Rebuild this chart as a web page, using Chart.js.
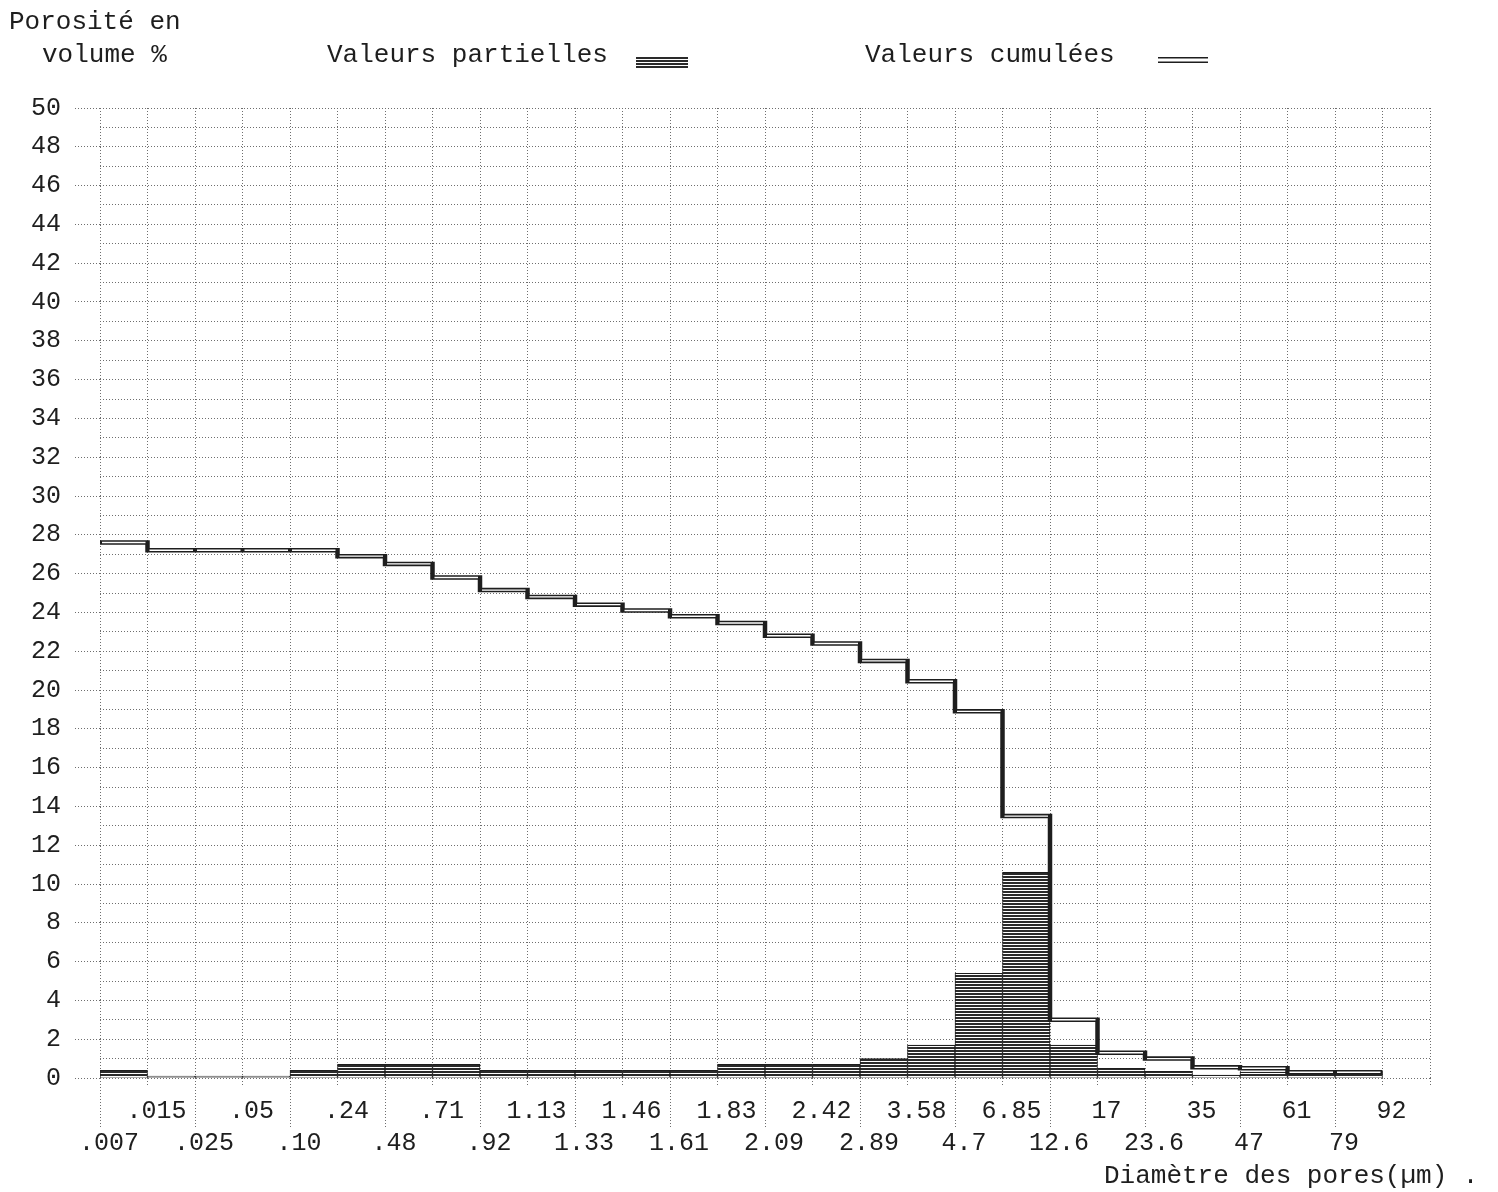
<!DOCTYPE html>
<html>
<head>
<meta charset="utf-8">
<script src="https://cdn.jsdelivr.net/npm/chart.js@4.4.1/dist/chart.umd.min.js"></script>
<style>
  body { margin: 0; background: #fff; }
  #wrap { width: 1498px; height: 1192px; position: relative; }
</style>
</head>
<body>
<div id="wrap"><canvas id="poreChart"></canvas></div>
<script>
// bornes des classes de diametre (um)
var diameters = ['.007', '.015', '.025', '.05', '.10', '.24', '.48', '.71', '.92', '1.13', '1.33', '1.46', '1.61', '1.83',
  '2.09', '2.42', '2.89', '3.58', '4.7', '6.85', '12.6', '17', '23.6', '35', '47', '61', '79', '92'];
// valeurs partielles (% volume) par classe
var partial = [0.4, 0.1, 0.1, 0.1, 0.4, 0.7, 0.7, 0.7, 0.4, 0.4, 0.4, 0.4, 0.4, 0.7,
  0.7, 0.7, 1.0, 1.7, 5.4, 10.6, 1.7, 0.5, 0.35, 0.15, 0.3, 0.3, 0.3];
// valeurs cumulees (% volume) par classe
var cumul = [27.6, 27.2, 27.2, 27.2, 27.2, 26.9, 26.5, 25.8, 25.15, 24.8, 24.4, 24.1, 23.8, 23.45,
  22.8, 22.4, 21.5, 20.45, 18.9, 13.5, 3.0, 1.3, 1.0, 0.55, 0.5, 0.3, 0.3];
var yMin = 0, yMax = 50;

var ink = '#1e1e1e';
var dots = '#6e6e6e';
var FONT = "'Liberation Mono', 'DejaVu Sans Mono', monospace";

// hachures horizontales des barres
var tile = document.createElement('canvas');
tile.width = 6; tile.height = 3;
var tg = tile.getContext('2d');
tg.fillStyle = '#fff'; tg.fillRect(0, 0, 6, 3);
tg.fillStyle = '#2a2a2a'; tg.fillRect(0, 0, 6, 2);
var hatch = document.getElementById('poreChart').getContext('2d').createPattern(tile, 'repeat');

var barData = partial.map(function (v, i) { return { x: i + 0.5, y: v }; });
var cumData = cumul.map(function (v, i) { return { x: i, y: v }; });
cumData.push({ x: cumul.length, y: cumul[cumul.length - 1] });

// trait double pour la courbe cumulee
var doubleLine = {
  id: 'doubleLine',
  afterDatasetsDraw: function (chart) {
    var pts = chart.getDatasetMeta(0).data;
    var ctx = chart.ctx;
    ctx.save();
    ctx.strokeStyle = '#fff';
    ctx.lineWidth = 1.4;
    ctx.beginPath();
    for (var i = 0; i < pts.length - 1; i++) {
      ctx.moveTo(pts[i].x + 2, pts[i].y);
      ctx.lineTo(pts[i + 1].x - 2, pts[i].y);
    }
    ctx.stroke();
    ctx.restore();
  }
};

// textes d'en-tete, legende et titre d'axe
var texts = {
  id: 'texts',
  afterDraw: function (chart) {
    var ctx = chart.ctx;
    var xs = chart.scales.x;
    var area = chart.chartArea;
    ctx.save();
    // prolongement des verticales paires sous l'axe
    ctx.strokeStyle = dots;
    ctx.lineWidth = 1;
    ctx.setLineDash([1, 2]);
    ctx.beginPath();
    for (var i = 0; i < diameters.length; i += 2) {
      var x = Math.round(xs.getPixelForValue(i)) + 0.5;
      ctx.moveTo(x, area.bottom);
      ctx.lineTo(x, area.bottom + 50);
    }
    ctx.stroke();
    ctx.setLineDash([]);

    ctx.fillStyle = ink;
    ctx.font = '26px ' + FONT;
    ctx.textBaseline = 'middle';
    ctx.fillText('Porosité en', 9, 22);
    ctx.fillText('volume %', 42, 55);
    ctx.fillText('Valeurs partielles', 327, 55);
    ctx.fillText('Valeurs cumulées', 865, 55);
    ctx.fillText('Diamètre des pores(µm) .', 1104, 1176);

    ctx.fillStyle = hatch;
    ctx.fillRect(636, 57, 52, 11);
    ctx.fillStyle = ink;
    ctx.fillRect(1158, 57, 50, 1.5);
    ctx.fillRect(1158, 61.5, 50, 1.5);
    ctx.restore();
  }
};

new Chart(document.getElementById('poreChart'), {
  data: {
    datasets: [{
      type: 'line',
      label: 'Valeurs cumulées',
      data: cumData,
      stepped: true,
      borderColor: ink,
      borderWidth: 4.5,
      pointRadius: 0,
      fill: false,
      order: 0
    }, {
      type: 'bar',
      label: 'Valeurs partielles',
      data: barData,
      backgroundColor: hatch,
      borderColor: ink,
      borderWidth: 1,
      barPercentage: 1,
      categoryPercentage: 1,
      order: 1
    }]
  },
  options: {
    responsive: true,
    maintainAspectRatio: false,
    animation: false,
    layout: { padding: { top: 108, left: 17, right: 68, bottom: 24 } },
    plugins: {
      legend: { display: false },
      tooltip: { enabled: false }
    },
    scales: {
      x: {
        type: 'linear',
        min: 0,
        max: diameters.length,
        offset: false,
        border: { display: false, dash: [1, 2] },
        grid: { offset: false, color: dots, tickColor: dots, tickLength: 8, tickBorderDash: [1, 2] },
        ticks: {
          stepSize: 1,
          autoSkip: false,
          maxRotation: 0,
          minRotation: 0,
          padding: 9,
          labelOffset: 9,
          color: ink,
          font: { family: FONT, size: 25, lineHeight: 1.28 },
          callback: function (v) {
            if (v >= diameters.length) return '';
            return v % 2 ? [diameters[v]] : ['', diameters[v]];
          }
        }
      },
      y: {
        min: yMin,
        max: yMax,
        border: { display: false, dash: [1, 2] },
        grid: {
          color: dots,
          tickLength: 25,
          tickBorderDash: [1, 2],
          tickColor: function (c) { return c.tick && c.tick.value % 2 === 0 ? dots : 'rgba(0,0,0,0)'; }
        },
        ticks: {
          stepSize: 1,
          autoSkip: false,
          padding: 14,
          color: ink,
          font: { family: FONT, size: 25 },
          callback: function (v) { return v % 2 === 0 ? v : ''; }
        }
      }
    }
  },
  plugins: [doubleLine, texts]
});
</script>
</body>
</html>
